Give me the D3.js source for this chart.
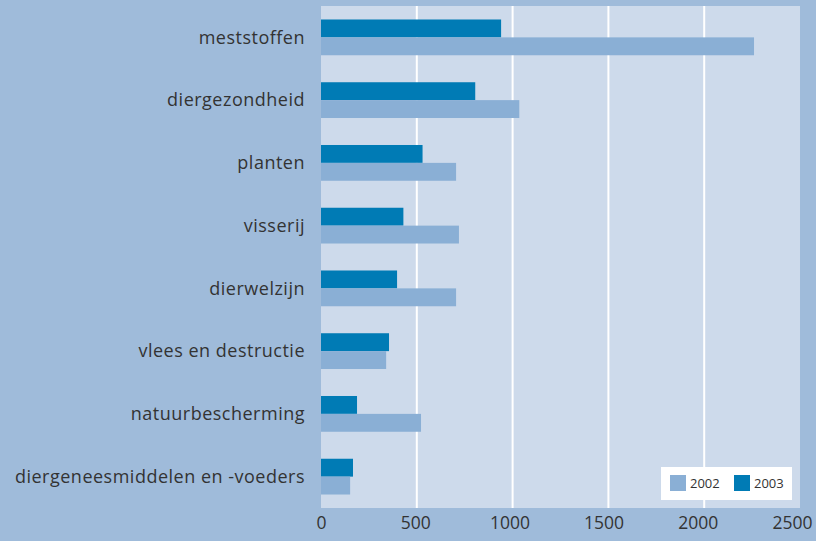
<!DOCTYPE html>
<html>
<head>
<meta charset="utf-8">
<script src="https://cdn.jsdelivr.net/npm/d3@7"></script>
<style>
  body { margin: 0; background: #9fbbda; }
  text { font-family: "Open Sans", sans-serif; fill: #333; }
</style>
</head>
<body>
<div id="chart"></div>
<script>
/* DATA */
const categories = ["meststoffen", "diergezondheid", "planten", "visserij", "dierwelzijn",
  "vlees en destructie", "natuurbescherming", "diergeneesmiddelen en -voeders"];
const values2003 = [940, 805, 530, 430, 397, 355, 188, 167];
const values2002 = [2260, 1035, 705, 720, 705, 340, 522, 152];
const years = ["2002", "2003"];
const tickValues = [0, 500, 1000, 1500, 2000, 2500];

const width = 816, height = 541;
const margin = { top: 6, right: 16, bottom: 33, left: 321 };
const colors = { "2002": "#8aafd5", "2003": "#007bb5" };

const svg = d3.select("#chart").append("svg")
  .attr("width", width).attr("height", height);

svg.append("rect").attr("width", width).attr("height", height).attr("fill", "#9fbbda");

const xScale = d3.scaleLinear().domain([0, 2500]).range([margin.left, width - margin.right]);
const yScale = d3.scaleBand().domain(categories)
  .range([margin.top, height - margin.bottom]).paddingInner(0.43).paddingOuter(0.215);

// plot background
svg.append("rect")
  .attr("x", margin.left).attr("y", margin.top)
  .attr("width", xScale(2500) - margin.left)
  .attr("height", height - margin.bottom - margin.top)
  .attr("fill", "#cddaeb");

// gridlines
svg.selectAll("line.grid")
  .data(tickValues.slice(1, -1))
  .join("line")
  .attr("class", "grid")
  .attr("x1", d => xScale(d)).attr("x2", d => xScale(d))
  .attr("y1", margin.top).attr("y2", height - margin.bottom)
  .attr("stroke", "#fff").attr("stroke-width", 2);

const sub = d3.scaleBand().domain(["2003", "2002"]).range([0, yScale.bandwidth()]);

const rows = categories.map((c, i) => ({ cat: c, v2002: values2002[i], v2003: values2003[i] }));

svg.selectAll("rect.b2003")
  .data(rows).join("rect").attr("class", "b2003")
  .attr("x", xScale(0))
  .attr("y", d => yScale(d.cat) + sub("2003"))
  .attr("width", d => xScale(d.v2003) - xScale(0))
  .attr("height", sub.bandwidth())
  .attr("fill", colors["2003"]);

svg.selectAll("rect.b2002")
  .data(rows).join("rect").attr("class", "b2002")
  .attr("x", xScale(0))
  .attr("y", d => yScale(d.cat) + sub("2002"))
  .attr("width", d => xScale(d.v2002) - xScale(0))
  .attr("height", sub.bandwidth())
  .attr("fill", colors["2002"]);

// category labels
svg.selectAll("text.cat")
  .data(categories).join("text").attr("class", "cat")
  .attr("x", 305)
  .attr("y", d => yScale(d) + yScale.bandwidth() / 2)
  .attr("dy", "0.35em")
  .attr("text-anchor", "end")
  .attr("font-size", "18px")
  .attr("letter-spacing", "0.5px")
  .text(d => d);

// x axis
const xAxis = d3.axisBottom(xScale).tickValues(tickValues).tickFormat(d3.format("d"))
  .tickSize(0).tickPadding(9);
const gx = svg.append("g")
  .attr("transform", `translate(0,${height - margin.bottom})`)
  .call(xAxis);
gx.select(".domain").remove();
// labels in the original sit a little left of their ticks, more so to the right
gx.selectAll("text").attr("font-size", "17.5px").attr("fill", "#333")
  .attr("font-family", "Open Sans, sans-serif")
  .attr("dx", d => -d * 0.0032);

// legend
const legend = svg.append("g").attr("transform", "translate(661,467)");
legend.append("rect").attr("width", 131).attr("height", 33).attr("fill", "#fff");
years.forEach((y, i) => {
  const g = legend.append("g").attr("transform", `translate(${9 + i * 64},8)`);
  g.append("rect").attr("width", 16).attr("height", 16).attr("fill", colors[y]);
  g.append("text").attr("x", 20).attr("y", 8).attr("dy", "0.35em")
    .attr("font-size", "13px").text(y);
});
</script>
</body>
</html>
